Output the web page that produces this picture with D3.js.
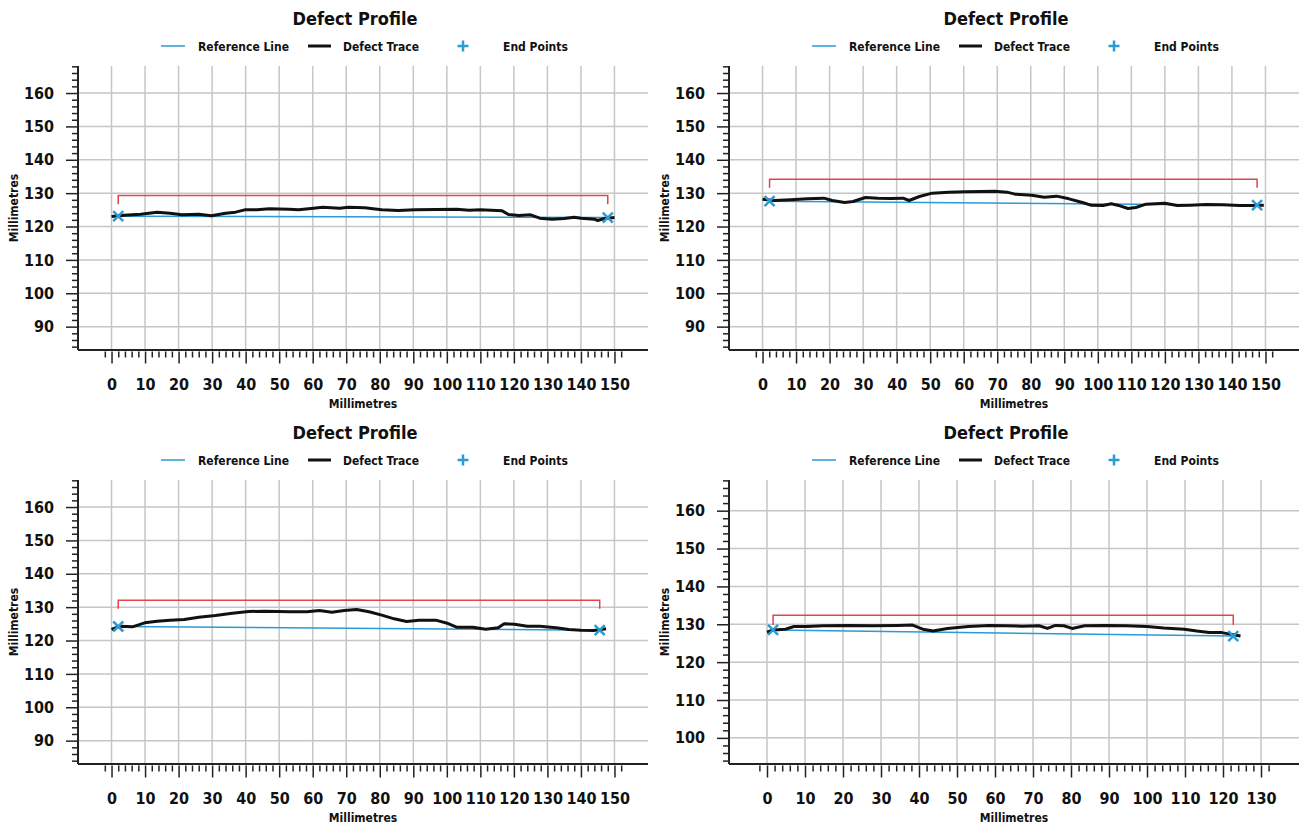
<!DOCTYPE html>
<html>
<head>
<meta charset="utf-8">
<script src="https://cdn.jsdelivr.net/npm/d3@7"></script>
<style>
  body { margin: 0; background: #fff; }
  svg text { font-family: "DejaVu Sans Condensed", "Liberation Sans Narrow", "Roboto Condensed", Roboto, sans-serif; font-weight: bold; fill: #111; }
</style>
</head>
<body>
<svg id="chart" width="1299" height="825"></svg>
<script>
// ---- data (millimetres) ----
const trace1X = [0, 3.7, 8.7, 13.6, 17.4, 21, 26, 29.8, 34, 37, 39.7, 43.4, 47, 53, 55.8, 59.5, 63, 68, 70.7, 75.6, 78, 80.6, 85.5, 90.5, 96.7, 103, 106.6, 110, 116.5, 118.4, 121.5, 125, 127.7, 131.4, 135, 138, 140, 144, 145, 147, 150];
const trace1Y = [123.0, 123.4, 123.7, 124.3, 124.0, 123.5, 123.7, 123.2, 124.0, 124.3, 125.0, 125.0, 125.3, 125.2, 125.0, 125.4, 125.8, 125.5, 125.8, 125.6, 125.3, 125.0, 124.8, 125.0, 125.1, 125.2, 124.9, 125.0, 124.7, 123.6, 123.3, 123.5, 122.5, 122.2, 122.4, 122.8, 122.5, 122.2, 121.8, 122.4, 122.7];

const trace2X = [0, 3.5, 8.4, 13.4, 18.3, 20.8, 24.5, 27, 30.7, 34.4, 38.2, 41.9, 43.7, 46.8, 50.6, 55.5, 60.5, 65.4, 69.2, 72.9, 75.3, 80.3, 84, 87.7, 91.4, 95.4, 97.9, 101.6, 104, 106.6, 109, 111.3, 114.4, 120, 123.7, 127.4, 132.3, 137.3, 142.3, 147.2, 149.5];
const trace2Y = [128.2, 127.8, 128.0, 128.3, 128.5, 127.8, 127.2, 127.5, 128.7, 128.5, 128.4, 128.5, 127.8, 129.0, 130.0, 130.3, 130.4, 130.5, 130.6, 130.3, 129.7, 129.4, 128.8, 129.1, 128.3, 127.2, 126.4, 126.3, 126.8, 126.2, 125.4, 125.7, 126.7, 127.0, 126.3, 126.4, 126.6, 126.5, 126.3, 126.3, 126.4];

const trace3X = [0, 2.5, 6.2, 9.9, 13.6, 17.4, 21.7, 26, 31, 36, 40.9, 45.9, 53.3, 58.3, 62, 65.7, 69.4, 73.1, 76.8, 80.6, 84.3, 88, 91.7, 96.7, 100.4, 102.9, 107.8, 111.6, 115.3, 117.1, 120.2, 124, 127.7, 132.6, 136.4, 140, 143.8, 147.5];
const trace3Y = [123.3, 124.3, 124.1, 125.3, 125.8, 126.1, 126.3, 127.0, 127.5, 128.2, 128.7, 128.8, 128.6, 128.6, 129.0, 128.5, 129.0, 129.3, 128.6, 127.6, 126.5, 125.7, 126.1, 126.1, 125.1, 124.0, 124.0, 123.4, 123.8, 125.0, 124.9, 124.3, 124.3, 123.8, 123.3, 123.1, 123.0, 123.5];

const trace4X = [0, 1.6, 4.9, 7.1, 10.4, 14.8, 21.3, 27.9, 34.4, 38.3, 41, 43.7, 47.5, 53, 58.5, 62.8, 67.2, 71.6, 73.8, 75.9, 78.1, 80.3, 83.6, 89, 94.5, 100, 104.4, 109.8, 113.1, 116.4, 119.7, 121.9, 124.6];
const trace4Y = [127.9, 128.5, 128.7, 129.4, 129.4, 129.6, 129.7, 129.6, 129.7, 129.8, 128.7, 128.2, 128.9, 129.4, 129.7, 129.6, 129.5, 129.6, 128.9, 129.7, 129.6, 128.9, 129.6, 129.7, 129.6, 129.4, 129.0, 128.7, 128.2, 127.8, 127.8, 127.4, 126.9];

const traceXs = [trace1X, trace2X, trace3X, trace4X];
const traceYs = [trace1Y, trace2Y, trace3Y, trace4Y];

const endPointX = [[2, 148], [2.1, 147.5], [2, 145.6], [1.6, 122.7]];
const endPointY = [[123.1, 122.7], [127.6, 126.4], [124.2, 123.1], [128.5, 126.9]];
const bracketY = [129.3, 134.2, 132.1, 132.4];
const BRACKET_DROP = 2.6;

const xDomains = [[-10, 160], [-10, 160], [-10, 160], [-10, 140]];
const yDomains = [[83, 168.1], [83, 168.1], [83, 168.1], [93.1, 168.1]];
const xTickMax = [150, 150, 150, 130];
const yTickMin = [90, 90, 90, 100];

const chartTitle = "Defect Profile";
const axisTitle = "Millimetres";
const legendLabels = ["Reference Line", "Defect Trace", "End Points"];

// ---- layout ----
const PANEL_LEFT = [78, 729, 78, 729];
const PANEL_TOP = [66, 66, 480, 480];
const PLOT_W = 570;
const PLOT_H = 284;
const BLUE = "#2a9bd5";
const RED = "#e2454b";
const GRID = "#c6c6c6";

const svg = d3.select("#chart");

for (let p = 0; p < 4; p++) {
  const left = PANEL_LEFT[p], top = PANEL_TOP[p];
  const panelShift = left - 78; // 0 or 651
  const g = svg.append("g").attr("transform", "translate(" + left + "," + top + ")");

  const x = d3.scaleLinear().domain(xDomains[p]).range([0, PLOT_W]);
  const y = d3.scaleLinear().domain(yDomains[p]).range([PLOT_H, 0]);

  const xMajor = d3.range(0, xTickMax[p] + 1, 10);
  const xMinor = d3.range(-2, xTickMax[p] + 3, 2).filter(v => v % 10 !== 0);
  const yMajor = d3.range(yTickMin[p], 161, 10);
  const yMinor = d3.range(Math.ceil(yDomains[p][0] / 2) * 2, yDomains[p][1], 2).filter(v => v % 10 !== 0);

  // grid
  g.append("g").selectAll("line").data(xMajor).enter().append("line")
    .attr("x1", d => x(d)).attr("x2", d => x(d))
    .attr("y1", 0).attr("y2", PLOT_H)
    .attr("stroke", GRID).attr("stroke-width", 1.5);
  g.append("g").selectAll("line").data(yMajor).enter().append("line")
    .attr("x1", 0).attr("x2", PLOT_W)
    .attr("y1", d => y(d)).attr("y2", d => y(d))
    .attr("stroke", GRID).attr("stroke-width", 1.5);

  // x axis: minor then major
  const xAxisG = g.append("g").attr("transform", "translate(0," + PLOT_H + ")");
  xAxisG.append("g").call(d3.axisBottom(x).tickValues(xMinor).tickSize(6).tickFormat("").tickSizeOuter(0))
    .call(a => a.select(".domain").remove());
  xAxisG.append("g").call(d3.axisBottom(x).tickValues(xMajor).tickSize(12).tickPadding(17).tickSizeOuter(0))
    .call(a => a.select(".domain").remove())
    .call(a => a.selectAll("text").style("font-size", "16px").attr("fill", "#111"));
  xAxisG.selectAll(".tick line").attr("stroke", "#222").attr("stroke-width", 1.5).attr("transform", "translate(0,1.5)");
  xAxisG.append("line").attr("x1", 0).attr("x2", PLOT_W).attr("stroke", "#222").attr("stroke-width", 2);

  // y axis
  const yAxisG = g.append("g");
  yAxisG.append("g").call(d3.axisLeft(y).tickValues(yMinor).tickSize(6).tickFormat("").tickSizeOuter(0))
    .call(a => a.select(".domain").remove());
  yAxisG.append("g").call(d3.axisLeft(y).tickValues(yMajor).tickSize(12).tickPadding(12).tickSizeOuter(0))
    .call(a => a.select(".domain").remove())
    .call(a => a.selectAll("text").style("font-size", "16px").attr("fill", "#111"));
  yAxisG.selectAll(".tick line").attr("stroke", "#222").attr("stroke-width", 1.5);
  yAxisG.append("line").attr("y1", 0).attr("y2", PLOT_H).attr("stroke", "#222").attr("stroke-width", 2);

  // reference line
  g.append("line")
    .attr("x1", x(endPointX[p][0])).attr("y1", y(endPointY[p][0]))
    .attr("x2", x(endPointX[p][1])).attr("y2", y(endPointY[p][1]))
    .attr("stroke", BLUE).attr("stroke-width", 1.5);

  // defect trace
  const pts = traceXs[p].map((v, i) => [v, traceYs[p][i]]);
  g.append("path").datum(pts)
    .attr("d", d3.line().x(d => x(d[0])).y(d => y(d[1])))
    .attr("fill", "none").attr("stroke", "#111").attr("stroke-width", 3)
    .attr("stroke-linejoin", "round");

  // bracket
  const bx0 = x(endPointX[p][0]), bx1 = x(endPointX[p][1]);
  const by = y(bracketY[p]), byl = y(bracketY[p] - BRACKET_DROP);
  g.append("path")
    .attr("d", "M" + bx0 + "," + byl + "V" + by + "H" + bx1 + "V" + byl)
    .attr("fill", "none").attr("stroke", RED).attr("stroke-width", 1.5);

  // end points (x markers)
  g.append("g").selectAll("path").data(endPointX[p].map((v, i) => [v, endPointY[p][i]])).enter()
    .append("path")
    .attr("transform", d => "translate(" + x(d[0]) + "," + y(d[1]) + ")")
    .attr("d", "M-5,-5L5,5M-5,5L5,-5")
    .attr("stroke", BLUE).attr("stroke-width", 2.5).attr("fill", "none");

  // axis titles
  g.append("text").attr("x", PLOT_W / 2).attr("y", PLOT_H + 58)
    .attr("text-anchor", "middle").style("font-size", "12px").text(axisTitle);
  g.append("text").attr("transform", "rotate(-90)")
    .attr("x", -PLOT_H / 2).attr("y", -60)
    .attr("text-anchor", "middle").style("font-size", "12px").text(axisTitle);

  // title + legend (relative to panel top)
  const head = svg.append("g").attr("transform", "translate(" + panelShift + "," + (top - 66) + ")");
  head.append("text").attr("x", 355).attr("y", 25).attr("text-anchor", "middle")
    .style("font-size", "18px").text(chartTitle);
  head.append("line").attr("x1", 161).attr("x2", 185).attr("y1", 46).attr("y2", 46)
    .attr("stroke", BLUE).attr("stroke-width", 1.5);
  head.append("text").attr("x", 198).attr("y", 50.5).style("font-size", "12px").text(legendLabels[0]);
  head.append("line").attr("x1", 308).attr("x2", 331).attr("y1", 46).attr("y2", 46)
    .attr("stroke", "#111").attr("stroke-width", 3);
  head.append("text").attr("x", 343).attr("y", 50.5).style("font-size", "12px").text(legendLabels[1]);
  head.append("path").attr("d", "M463,40.5V51.5M457.5,46H468.5")
    .attr("stroke", BLUE).attr("stroke-width", 2.5);
  head.append("text").attr("x", 503).attr("y", 50.5).style("font-size", "12px").text(legendLabels[2]);
}
</script>
</body>
</html>
